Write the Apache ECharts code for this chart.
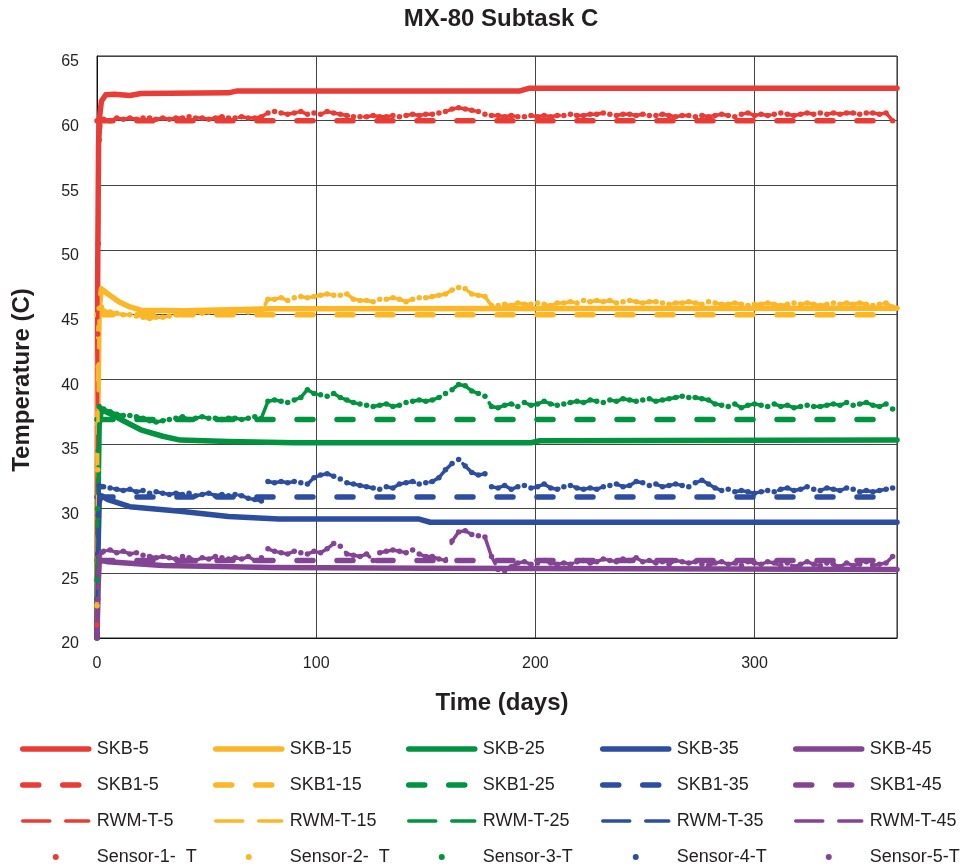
<!DOCTYPE html>
<html>
<head>
<meta charset="utf-8">
<title>MX-80 Subtask C</title>
<script src="https://cdn.jsdelivr.net/npm/echarts@6/dist/echarts.min.js"></script>
<style>
  html, body { margin: 0; padding: 0; background: #fff; }
  #chart { width: 962px; height: 868px; }
</style>
</head>
<body>
<div id="chart"></div>
<script>
// ---- Model curves (time in days, temperature in C) ----
const skbDays = {
  5:  [0, 0.3, 0.7, 1, 2, 4, 8, 15, 20, 60, 64, 193, 197, 365],
  15: [0, 0.4, 1, 2, 5, 10, 15, 20, 40, 80, 365],
  25: [0, 0.4, 1, 2, 4, 7, 12, 20, 30, 38, 60, 90, 198, 202, 365],
  35: [0, 0.5, 1, 2, 5, 15, 38, 60, 83, 147, 152, 365],
  45: [0, 0.5, 1, 2, 5, 30, 80, 150, 250, 365]
};
const skbTemp = {
  5:  [20, 48, 58, 60, 61.5, 62.0, 62.05, 61.95, 62.1, 62.15, 62.3, 62.3, 62.5, 62.5],
  15: [20, 38, 45.5, 47.0, 46.6, 46.0, 45.6, 45.35, 45.3, 45.45, 45.5],
  25: [20, 30, 36.5, 37.6, 37.5, 37.25, 36.8, 36.1, 35.6, 35.3, 35.2, 35.1, 35.1, 35.25, 35.3],
  35: [20, 27, 30.5, 31.0, 30.7, 30.15, 29.8, 29.4, 29.2, 29.2, 28.95, 28.95],
  45: [20, 24, 25.8, 26.0, 25.9, 25.6, 25.45, 25.4, 25.35, 25.3]
};

const skb1Days = [0, 365];
const skb1Temp = {
  5:  [60.0, 60.0],
  15: [45.0, 45.0],
  25: [36.9, 36.9],
  35: [30.9, 30.9],
  45: [26.0, 26.0]
};

// ---- Measured temperatures (shared time base for RWM-T and sensors) ----
const measDays = [
  0, 0.3, 0.6, 1, 2,
  3, 6, 9, 12, 15, 18, 21, 24, 27, 30,
  33, 36, 39, 42, 45, 48, 51, 54, 57, 60,
  63, 66, 69, 72, 75, 78, 81, 84, 87, 90,
  93, 96, 99, 102, 105, 108, 111, 114, 117, 120,
  123, 126, 129, 132, 135, 138, 141, 144, 147, 150,
  153, 156, 159, 162, 165, 168, 171, 174, 177, 180,
  183, 186, 189, 192, 195, 198, 201, 204, 207, 210,
  213, 216, 219, 222, 225, 228, 231, 234, 237, 240,
  243, 246, 249, 252, 255, 258, 261, 264, 267, 270,
  273, 276, 279, 282, 285, 288, 291, 294, 297, 300,
  303, 306, 309, 312, 315, 318, 321, 324, 327, 330,
  333, 336, 339, 342, 345, 348, 351, 354, 357, 360,
  363
];
const meas5 = [
  21.0, 43.5, 50.5, 58.5, 60.0,
  60.1, 60.0, 60.2, 60.1, 60.2, 60.1, 60.2, 60.2, 60.1, 60.2,
  60.1, 60.2, 60.2, 60.3, 60.2, 60.2, 60.1, 60.2, 60.3, 60.2,
  60.2, 60.3, 60.2, 60.2, 60.3, 60.6, 60.7, 60.6, 60.5, 60.6,
  60.7, 60.5, 60.6, 60.5, 60.7, 60.6, 60.5, 60.4, 60.3, 60.3,
  60.3, 60.4, 60.3, 60.3, 60.4, 60.3, 60.4, 60.5, 60.4, 60.5,
  60.5, 60.6, 60.7, 60.9, 61.0, 60.9, 60.8, 60.7, 60.5, 60.4,
  60.4, 60.3, 60.4, 60.3, 60.3, 60.4, 60.3, 60.4, 60.3, 60.4,
  60.4, 60.5, 60.4, 60.4, 60.5, 60.5, 60.6, 60.5, 60.4, 60.5,
  60.5, 60.4, 60.5, 60.4, 60.4, 60.5, 60.4, 60.3, 60.4, 60.4,
  60.3, 60.4, 60.3, 60.4, 60.5, 60.4, 60.3, 60.5, 60.6, 60.4,
  60.5, 60.4, 60.5, 60.6, 60.5, 60.4, 60.5, 60.6, 60.5, 60.6,
  60.5, 60.6, 60.5, 60.6, 60.6, 60.5, 60.6, 60.6, 60.5, 60.6,
  60.0
];
const meas15 = [
  22.5, 33.0, 41.0, 45.5, 45.6,
  45.3, 45.2, 45.1, 45.0, 45.0, 44.9, 44.8, 44.7, 44.8, 44.8,
  44.9, 45.0, 45.1, 45.1, 45.2, 45.1, 45.2, 45.2, 45.1, 45.2,
  45.2, 45.3, 45.2, 45.3, 45.2, 46.2, 46.2, 46.3, 46.1, 46.3,
  46.4, 46.3, 46.4, 46.5, 46.6, 46.5, 46.5, 46.6, 46.2, 46.1,
  46.1, 46.0, 46.2, 46.2, 46.3, 46.2, 46.0, 46.2, 46.3, 46.3,
  46.4, 46.5, 46.6, 46.9, 47.1, 47.0, 46.6, 46.5, 46.4, 45.7,
  45.7, 45.8, 45.7, 45.9, 45.8, 45.8, 45.9, 45.8, 45.7, 45.9,
  45.9, 46.0, 45.9, 46.1, 46.0, 46.1, 46.0, 46.1, 45.9, 46.0,
  46.1, 46.0, 45.9, 46.0, 46.0, 45.9, 45.8, 45.9, 45.9, 46.0,
  45.9, 45.8, 46.0, 45.9, 45.8, 45.8, 45.9, 45.8, 45.7, 45.8,
  45.8, 45.9, 45.8, 45.7, 45.8, 45.9, 45.8, 45.9, 45.8, 45.7,
  45.8, 45.9, 45.8, 45.9, 45.8, 45.9, 45.8, 45.7, 45.8, 45.9,
  45.6
];
const meas25 = [
  24.5, 30.0, 34.5, 37.9, 37.7,
  37.7, 37.5, 37.3, 37.2, 37.2, 37.1, 37.0, 36.8, 36.7, 36.8,
  36.9, 37.0, 37.1, 36.9, 37.0, 37.1, 37.0, 37.0, 36.9, 37.0,
  37.0, 36.9, 37.0, 37.1, 37.0, 38.3, 38.4, 38.3, 38.2, 38.4,
  38.6, 39.2, 38.9, 38.8, 38.7, 38.9, 38.6, 38.4, 38.2, 38.1,
  38.0, 37.9, 38.0, 38.1, 37.9, 38.0, 38.2, 38.3, 38.4, 38.3,
  38.4, 38.6, 38.9, 39.2, 39.6, 39.5, 39.1, 38.9, 38.7, 37.9,
  37.8, 38.0, 38.1, 37.9, 38.2, 38.0, 38.1, 38.3, 38.1, 38.0,
  38.1, 38.2, 38.3, 38.2, 38.4, 38.3, 38.2, 38.4, 38.3, 38.5,
  38.4, 38.3, 38.4, 38.5, 38.3, 38.4, 38.5, 38.6, 38.7, 38.6,
  38.6, 38.5, 38.4, 38.1, 38.0, 37.9, 38.1, 37.8, 38.0, 38.1,
  38.0, 37.9, 38.1, 37.9, 38.0, 37.8, 37.9, 38.0, 37.9, 37.9,
  38.0, 38.1, 38.0, 38.2, 38.0, 38.1, 38.2, 38.0, 37.9, 38.1,
  37.7
];
const meas35 = [
  23.0, 26.5, 29.5, 31.8, 31.7,
  31.7, 31.6, 31.5, 31.4, 31.5, 31.3, 31.4, 31.2, 31.3, 31.2,
  31.1, 31.2, 31.1, 31.2, 31.0, 31.1, 31.2, 31.0, 31.1, 31.0,
  31.1, 31.0, 30.8, 30.7, 30.6, 32.1, 32.0, 32.1, 32.0, 32.1,
  32.0, 31.9, 32.4, 32.6, 32.7, 32.5, 32.3, 32.0, 31.9, 31.8,
  31.7, 31.6, 31.5, 31.7, 31.6, 31.9, 32.0, 32.1, 31.9, 32.0,
  32.1, 32.4, 33.0, 33.5, 33.8, 33.3, 32.8, 32.6, 32.7, 31.7,
  31.6, 31.8, 31.5, 31.7, 31.8, 31.6, 31.7, 31.9, 31.6, 31.5,
  31.7, 31.8, 31.6, 31.5, 31.6, 31.5, 31.7, 31.8, 31.9, 31.7,
  31.8, 32.1, 32.0, 31.8, 31.9, 31.7, 31.8, 31.9, 31.8, 31.7,
  32.0, 32.2, 31.9, 31.6, 31.4, 31.5, 31.3, 31.4, 31.3, 31.2,
  31.3, 31.4, 31.3, 31.5, 31.6, 31.4, 31.5, 31.7, 31.5, 31.4,
  31.6, 31.5, 31.4, 31.6, 31.5, 31.3, 31.4, 31.3, 31.4, 31.5,
  31.6
];
const meas45 = [
  20.5, 23.0, 25.0, 26.3, 26.6,
  26.7, 26.8, 26.6, 26.7, 26.5, 26.6, 26.4, 26.3, 26.2, 26.3,
  26.2, 26.1, 26.3, 26.2, 26.0, 26.2, 26.1, 26.3, 26.2, 26.1,
  26.2, 26.1, 26.3, 26.0, 26.2, 26.9, 26.7, 26.6, 26.5, 26.7,
  26.6, 26.5, 26.7, 26.6, 26.9, 27.3, 27.1, 26.5, 26.4, 26.3,
  26.5, 26.0, 26.6, 26.7, 26.8, 26.7, 26.6, 26.8, 26.5, 26.3,
  26.3, 26.1, 26.0, 27.5, 28.2, 28.3, 28.0, 27.9, 27.8, 26.3,
  25.3, 25.2, 25.5, 25.8, 25.9, 25.7, 25.8, 26.0, 25.8, 25.7,
  25.8, 25.7, 25.9, 26.0, 25.8, 25.9, 26.1, 26.0, 25.9, 26.1,
  26.0, 26.2, 25.9, 26.0, 25.8, 25.9, 25.7, 26.0, 25.9, 25.8,
  25.9, 25.7, 25.6, 25.8, 25.9, 25.7, 25.8, 25.6, 25.9, 25.8,
  25.7, 25.9, 25.8, 25.6, 25.8, 25.5, 25.7, 25.9, 25.7, 25.6,
  25.8, 25.7, 25.5, 25.8, 25.6, 25.7, 25.9, 25.6, 25.7, 25.8,
  26.3
];
const measTemp = { 5: meas5, 15: meas15, 25: meas25, 35: meas35, 45: meas45 };

// ---- Series identity ----
const depths = [5, 15, 25, 35, 45];
const sensorNames = ['Sensor-1-  T', 'Sensor-2-  T', 'Sensor-3-T', 'Sensor-4-T', 'Sensor-5-T'];
const colors = ['#E83C37', '#FBB728', '#01933F', '#2D4E9F', '#834493'];

const FONT = "'Liberation Sans', Arial, Helvetica, sans-serif";
const TEXT = '#231F20';
const SOLID_W = 5.5, THICK_DASH = [16, 24], THIN_W = 3.5, THIN_DASH = [27, 16];

function pairs(xs, ys) { return xs.map((x, i) => [x, ys[i]]); }

const series = [];
depths.forEach((d, i) => {
  series.push({
    name: 'SKB-' + d, type: 'line', symbol: 'none', z: 2,
    lineStyle: { color: colors[i], width: SOLID_W, cap: 'round', join: 'round' },
    itemStyle: { color: colors[i] },
    data: pairs(skbDays[d], skbTemp[d])
  });
});
depths.forEach((d, i) => {
  series.push({
    name: 'SKB1-' + d, type: 'line', symbol: 'none', z: 3,
    lineStyle: { color: colors[i], width: SOLID_W, type: THICK_DASH, cap: 'round' },
    itemStyle: { color: colors[i] },
    data: pairs(skb1Days, skb1Temp[d])
  });
});
depths.forEach((d, i) => {
  series.push({
    name: 'RWM-T-' + d, type: 'line', symbol: 'none', z: 4,
    lineStyle: { color: colors[i], width: THIN_W, type: THIN_DASH, cap: 'round', join: 'round' },
    itemStyle: { color: colors[i] },
    data: pairs(measDays, measTemp[d])
  });
});
depths.forEach((d, i) => {
  series.push({
    name: sensorNames[i], type: 'scatter', symbol: 'circle', symbolSize: 5.5, z: 5,
    itemStyle: { color: colors[i], opacity: 1 },
    data: pairs(measDays, measTemp[d])
  });
});

// Legend: one vertical column per depth
const colLeft = [20, 213, 406, 600, 793];
const legends = depths.map((d, i) => ({
  type: 'plain',
  orient: 'vertical',
  left: colLeft[i],
  top: 740,
  padding: 0,
  itemWidth: 66,
  itemHeight: 6,
  itemGap: 18,
  selectedMode: false,
  textStyle: { fontSize: 18, color: TEXT, fontFamily: FONT, lineHeight: 18, padding: [0, 0, 0, 3] },
  data: [
    { name: 'SKB-' + d, itemStyle: { opacity: 0 }, lineStyle: { width: SOLID_W, type: 'solid', cap: 'round' } },
    { name: 'SKB1-' + d, itemStyle: { opacity: 0 }, lineStyle: { width: SOLID_W, type: THICK_DASH, cap: 'round' } },
    { name: 'RWM-T-' + d, itemStyle: { opacity: 0 }, lineStyle: { width: THIN_W, type: THIN_DASH, cap: 'round' } },
    { name: sensorNames[i], icon: 'circle' }
  ]
}));

const chart = echarts.init(document.getElementById('chart'), null, { renderer: 'canvas' });
chart.setOption({
  animation: false,
  backgroundColor: '#fff',
  grid: { left: 97, right: 65, top: 56, bottom: 230, show: true, borderColor: '#222', borderWidth: 1 },
  xAxis: {
    type: 'value', min: 0, max: 365, interval: 100,
    axisLine: { show: true, lineStyle: { color: '#111', width: 1 } },
    axisTick: { show: false },
    splitLine: { show: true, lineStyle: { color: '#444', width: 1 } },
    axisLabel: { fontSize: 16, color: TEXT, fontFamily: FONT, margin: 18, showMaxLabel: false }
  },
  yAxis: {
    type: 'value', min: 20, max: 65, interval: 5,
    axisLine: { show: true, lineStyle: { color: '#111', width: 1 } },
    axisTick: { show: false },
    splitLine: { show: true, lineStyle: { color: '#444', width: 1 } },
    axisLabel: { fontSize: 16, color: TEXT, fontFamily: FONT, margin: 18, verticalAlign: 'top', lineHeight: 12 }
  },
  legend: legends,
  graphic: [
    { type: 'text', x: 501, y: 19, style: { text: 'MX-80 Subtask C', font: 'bold 24px ' + FONT, fill: TEXT, align: 'center', verticalAlign: 'middle' } },
    { type: 'text', x: 502, y: 703, style: { text: 'Time (days)', font: 'bold 24px ' + FONT, fill: TEXT, align: 'center', verticalAlign: 'middle' } },
    { type: 'text', x: 22, y: 380, rotation: Math.PI / 2, style: { text: 'Temperature (C)', font: 'bold 24px ' + FONT, fill: TEXT, align: 'center', verticalAlign: 'middle' } }
  ],
  series: series
});
</script>
</body>
</html>
